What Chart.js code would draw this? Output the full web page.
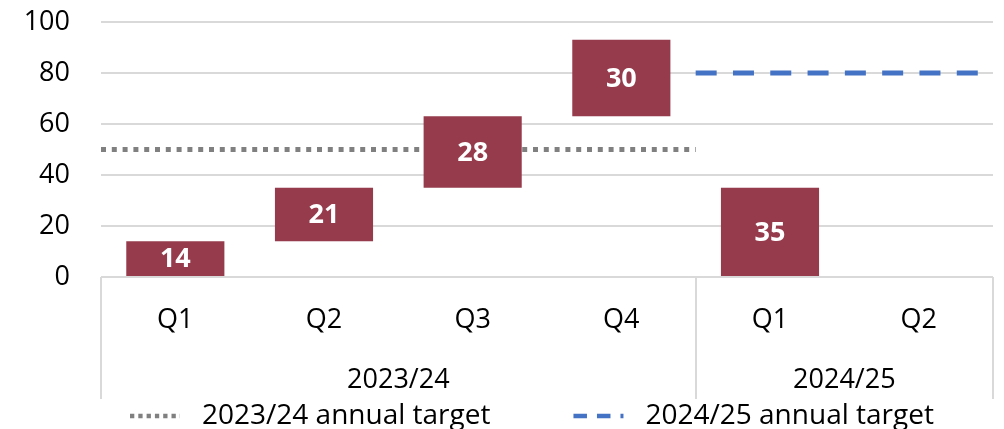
<!DOCTYPE html>
<html><head><meta charset="utf-8">
<script src="https://cdn.jsdelivr.net/npm/chart.js@4.4.1/dist/chart.umd.min.js"></script>
<style>
html,body{margin:0;padding:0;background:#fff;overflow:hidden}
#wrap{width:1004px;height:429px;position:relative}
</style>
</head><body>
<div id="wrap"><canvas id="c"></canvas></div>
<script>
// ---- data ----
const categories = ['Q1', 'Q2', 'Q3', 'Q4', 'Q1', 'Q2'];
const yearGroups = ['2023/24', '2024/25'];
const quartersPerYear = [4, 2];
const quarterValues = [14, 21, 28, 30, 35, null];
const yTicks = [0, 20, 40, 60, 80, 100];
const targetLabels = ['2023/24 annual target', '2024/25 annual target'];
const targetValues = [50, 80];

// ---- styles ----
const FONT = "'Open Sans', 'Liberation Sans', sans-serif";
const BAR_COLOR = '#953B4C';
const GRID_COLOR = '#D9D9D9';
const targetStyles = [
  { color: '#808080', width: 5, dash: [5, 5.8], legendDash: [4.3, 4], legendWidth: 4.3 },
  { color: '#4472C4', width: 5, dash: [21, 16.3], legendDash: [13.5, 10], legendWidth: 4.3 }
];

// build floating (waterfall) bars: cumulative within each year
const floatBars = [];
let idx = 0;
const groupStarts = [];
quartersPerYear.forEach(n => {
  groupStarts.push(idx);
  let run = 0;
  for (let k = 0; k < n; k++, idx++) {
    const v = quarterValues[idx];
    if (v === null || v === undefined) { floatBars.push(null); continue; }
    floatBars.push([run, run + v]);
    run += v;
  }
});

const targetDatasets = targetValues.map((t, g) => {
  const s = groupStarts[g], n = quartersPerYear[g];
  return {
    type: 'line',
    label: targetLabels[g],
    xAxisID: 'xl',
    data: [{ x: s - 0.5, y: t }, { x: s + n - 0.5, y: t }],
    borderColor: targetStyles[g].color,
    borderWidth: targetStyles[g].width,
    borderDash: targetStyles[g].dash,
    borderCapStyle: 'butt',
    pointRadius: 0,
    fill: false
  };
});

const X_AXIS_HEIGHT = 122;
const LEGEND_LEFT = 130;

const extras = {
  id: 'extras',
  afterDraw(chart) {
    const ctx = chart.ctx;
    const area = chart.chartArea;
    const xl = chart.scales.xl;
    ctx.save();
    // bar value labels
    const meta = chart.getDatasetMeta(0);
    ctx.font = 'bold 27px ' + FONT;
    ctx.fillStyle = '#FFFFFF';
    ctx.textAlign = 'center';
    ctx.textBaseline = 'middle';
    meta.data.forEach((bar, i) => {
      const v = quarterValues[i];
      if (v === null || v === undefined || !floatBars[i]) return;
      ctx.fillText(String(v), bar.x, (bar.y + bar.base) / 2 + 1);
    });
    // group separators
    ctx.strokeStyle = GRID_COLOR;
    ctx.lineWidth = 2;
    const bounds = [-0.5];
    groupStarts.forEach((s, g) => bounds.push(s + quartersPerYear[g] - 0.5));
    bounds.forEach(b => {
      const px = Math.round(xl.getPixelForValue(b));
      ctx.beginPath();
      ctx.moveTo(px, area.bottom);
      ctx.lineTo(px, area.bottom + X_AXIS_HEIGHT);
      ctx.stroke();
    });
    // group labels
    ctx.font = '27px ' + FONT;
    ctx.fillStyle = '#000000';
    yearGroups.forEach((lab, g) => {
      const c = groupStarts[g] - 0.5 + quartersPerYear[g] / 2;
      ctx.fillText(lab, xl.getPixelForValue(c), area.bottom + 103);
    });
    // legend
    ctx.font = '28px ' + FONT;
    const ly = area.bottom + X_AXIS_HEIGHT + 17;
    let x = LEGEND_LEFT;
    ctx.textAlign = 'left';
    targetLabels.forEach((lab, g) => {
      const st = targetStyles[g];
      ctx.strokeStyle = st.color;
      ctx.lineWidth = st.legendWidth;
      ctx.setLineDash(st.legendDash);
      ctx.lineCap = 'butt';
      ctx.beginPath();
      ctx.moveTo(x, ly);
      ctx.lineTo(x + 50, ly);
      ctx.stroke();
      ctx.setLineDash([]);
      x += 50 + 22;
      ctx.fillText(lab, x, ly);
      x += ctx.measureText(lab).width + 83;
    });
    ctx.restore();
  }
};

new Chart(document.getElementById('c'), {
  type: 'bar',
  data: {
    labels: categories,
    datasets: [
      {
        type: 'bar',
        label: 'Quarterly',
        data: floatBars,
        backgroundColor: BAR_COLOR,
        borderWidth: 0,
        grouped: false,
        barPercentage: 0.66,
        categoryPercentage: 1.0
      },
      ...targetDatasets
    ]
  },
  options: {
    responsive: true,
    maintainAspectRatio: false,
    animation: false,
    layout: { padding: { top: 22, left: 0, right: 11, bottom: 30 } },
    plugins: { legend: { display: false }, tooltip: { enabled: false } },
    scales: {
      x: {
        type: 'category',
        offset: true,
        grid: { display: false, offset: true },
        border: { display: false },
        ticks: { font: { family: FONT, size: 27 }, color: '#000', padding: 19, maxRotation: 0, autoSkip: false },
        afterFit(s) { s.height = X_AXIS_HEIGHT; }
      },
      xl: {
        type: 'linear',
        display: false,
        offset: false,
        min: -0.5,
        max: categories.length - 0.5
      },
      y: {
        min: 0,
        max: 100,
        afterBuildTicks(s) { s.ticks = yTicks.map(v => ({ value: v })); },
        grid: { color: GRID_COLOR, lineWidth: 2, drawTicks: false },
        border: { display: false },
        ticks: { font: { family: FONT, size: 27 }, color: '#000', padding: 31 },
        afterFit(s) { s.width = 101; s.paddingTop = 0; s.paddingBottom = 0; }
      }
    }
  },
  plugins: [extras]
});
</script>
</body></html>
